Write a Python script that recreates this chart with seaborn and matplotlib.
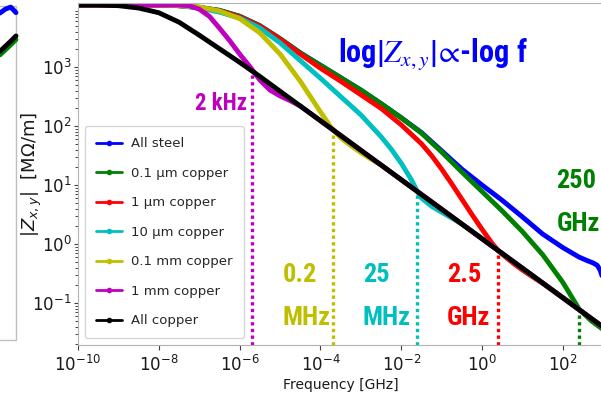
import numpy as np
import pandas as pd
import matplotlib
matplotlib.use('Agg')
import matplotlib.pyplot as plt
from matplotlib.lines import Line2D
from matplotlib.patches import Rectangle
import seaborn as sns

# log10 of frequency [GHz] and log10 of |Z| [MOhm/m]
blu_lf = [-10, -8, -7.5, -7, -6.5, -6, -5.5, -5, -4.5, -4, -3.5, -3, -2.5, -2, -1.5, -1, -0.5, 0, 0.5, 1, 1.5, 2, 2.4, 2.6, 2.75, 2.85, 2.92, 3]
blu_lz = [4.05, 4.05, 4.04, 4.01, 3.96, 3.86, 3.70, 3.48, 3.24, 3.03, 2.82, 2.61, 2.38, 2.14, 1.89, 1.58, 1.27, 1.00, 0.74, 0.46, 0.17, -0.06, -0.22, -0.28, -0.32, -0.36, -0.44, -0.60]

grn_lf = [-10, -8, -7.5, -7, -6.5, -6, -5.5, -5, -4.5, -4, -3.5, -3, -2.5, -2, -1.5, -1, -0.5, 0, 0.5, 1, 1.5, 2, 2.4, 2.7, 3]
grn_lz = [4.05, 4.05, 4.04, 4.01, 3.96, 3.86, 3.70, 3.48, 3.24, 3.03, 2.82, 2.61, 2.38, 2.14, 1.88, 1.56, 1.22, 0.89, 0.56, 0.21, -0.18, -0.65, -1.10, -1.30, -1.45]

red_lf = [-10, -8, -7.5, -7, -6.5, -6, -5.5, -5, -4.5, -4, -3.5, -3, -2.5, -2, -1.5, -1.25, -1, -0.75, -0.5, -0.25, 0, 0.25, 0.4, 0.6, 0.8, 1.0, 1.25, 1.5, 2, 3]
red_lz = [4.05, 4.05, 4.04, 4.01, 3.95, 3.85, 3.69, 3.47, 3.22, 2.98, 2.76, 2.53, 2.30, 2.02, 1.70, 1.50, 1.27, 1.02, 0.76, 0.50, 0.25, 0.01, -0.11, -0.23, -0.34, -0.44, -0.555, -0.665, -0.91, -1.41]

cyn_lf = [-10, -8, -7.5, -7, -6.5, -6, -5.5, -5, -4.5, -4, -3.5, -3, -2.5, -2.25, -2, -1.75, -1.6, -1.5, -1.25, -1, -0.75, -0.5, 0, 1, 2, 3]
cyn_lz = [4.05, 4.05, 4.04, 4.00, 3.93, 3.83, 3.66, 3.41, 3.11, 2.81, 2.50, 2.19, 1.82, 1.61, 1.37, 1.09, 0.89, 0.78, 0.64, 0.54, 0.44, 0.34, 0.09, -0.41, -0.91, -1.41]

yel_lf = [-10, -8, -7.5, -7, -6.5, -6, -5.5, -5, -4.5, -4.25, -4, -3.75, -3.5, -3.25, -3, -2.75, -2.5, -2, -1, 0, 1, 2, 3]
yel_lz = [4.05, 4.05, 4.04, 4.02, 3.95, 3.82, 3.58, 3.22, 2.76, 2.50, 2.24, 1.99, 1.80, 1.67, 1.55, 1.44, 1.34, 1.09, 0.59, 0.09, -0.41, -0.91, -1.41]

mag_lf = [-10, -8, -7.5, -7.25, -7, -6.75, -6.5, -6.25, -6, -5.75, -5.5, -5.25, -5, -4.75, -4.5, -4, -3, -2, -1, 0, 1, 2, 3]
mag_lz = [4.05, 4.05, 4.05, 4.04, 3.98, 3.86, 3.66, 3.45, 3.22, 3.01, 2.78, 2.61, 2.51, 2.43, 2.34, 2.09, 1.59, 1.09, 0.59, 0.09, -0.41, -0.91, -1.41]

blk_lf = [-10, -9.5, -9, -8.5, -8, -7.5, -7, -6.5, -6, -5.5, -5, -4, -3, -2, -1, 0, 1, 2, 3]
blk_lz = [4.05, 4.05, 4.04, 4.00, 3.92, 3.76, 3.54, 3.31, 3.08, 2.84, 2.59, 2.09, 1.59, 1.09, 0.59, 0.09, -0.41, -0.91, -1.41]

series_names = ['All steel', '0.1 µm copper', '1 µm copper', '10 µm copper',
                '0.1 mm copper', '1 mm copper', 'All copper']
series_colors = ['#0000ff', '#008000', '#ff0000', '#00bfbf', '#bfbf00', '#bf00bf', '#000000']
series_data = [(blu_lf, blu_lz), (grn_lf, grn_lz), (red_lf, red_lz), (cyn_lf, cyn_lz),
               (yel_lf, yel_lz), (mag_lf, mag_lz), (blk_lf, blk_lz)]

# crossover frequencies where each layer joins the all-copper curve
cross_ghz = [2e-6, 2e-4, 2.5e-2, 2.5, 250]
cross_lz = [2.94, 1.94, 0.89, -0.11, -1.11]
cross_labels = ['2 kHz', '0.2\nMHz', '25\nMHz', '2.5\nGHz', '250\nGHz']
cross_colors = ['#bf00bf', '#bfbf00', '#00bfbf', '#ff0000', '#008000']

# sliver of the neighbouring panel at the left edge (figure fractions)
side_x = [0.0, 0.009, 0.018, 0.0266]
side_blue = [0.967, 0.977, 0.982, 0.968]
side_green = [0.861, 0.874, 0.887, 0.900]
side_black = [0.870, 0.883, 0.896, 0.909]

sns.set_style('ticks')
plt.rcParams['font.family'] = ['DejaVu Sans']

frames = []
for name, (lf, lz) in zip(series_names, series_data):
    frames.append(pd.DataFrame({'f': 10.0 ** np.array(lf), 'z': 10.0 ** np.array(lz), 'series': name}))
df = pd.concat(frames, ignore_index=True)

fig = plt.figure(figsize=(6.01, 3.95), dpi=100)
ax = fig.add_axes([0.1298, 0.1266, 0.874, 0.8658])

sns.lineplot(data=df, x='f', y='z', hue='series', hue_order=series_names,
             palette=series_colors, linewidth=3.5, estimator=None, sort=False,
             legend=False, ax=ax)

ax.set_xscale('log')
ax.set_yscale('log')
ax.set_xlim(1e-10, 1e3)
ax.set_ylim(10 ** -1.71, 10 ** 4.085)
ax.set_xticks([1e-10, 1e-8, 1e-6, 1e-4, 1e-2, 1e0, 1e2])
ax.set_yticks([1e-1, 1e0, 1e1, 1e2, 1e3])
ax.tick_params(labelsize=12, colors='0.25', labelcolor='0.1')
ax.tick_params(axis='y', which='major', length=3, pad=1.5)
ax.tick_params(axis='y', which='minor', length=2)
for sp in ax.spines.values():
    sp.set_color('0.7')

ax.set_xlabel('Frequency [GHz]', fontsize=10, color='0.1', labelpad=2)
ax.set_ylabel(r'$|Z_{x,y}|$  [M$\Omega$/m]', fontsize=13, color='0.1')
ax.yaxis.set_label_coords(-0.064, 0.5)

ybot = ax.get_ylim()[0]
for f, lz, c in zip(cross_ghz, cross_lz, cross_colors):
    ax.plot([f, f], [ybot, 10 ** lz], color=c, lw=2.4, ls=(0, (1, 1)), zorder=1)

label_font = ['Roboto Condensed', 'Lato', 'DejaVu Sans']
ax.text(0.322, 0.705, cross_labels[0], transform=ax.transAxes, ha='right', va='center',
        color=cross_colors[0], fontsize=16.5, fontweight='bold', family=label_font)
label_pos = [(0.390, 0.142), (0.5425, 0.142), (0.7025, 0.142), (0.911, 0.417)]
for (x, y), lab, c in zip(label_pos, cross_labels[1:], cross_colors[1:]):
    ax.text(x, y, lab, transform=ax.transAxes, ha='left', va='center', multialignment='left',
            color=c, fontsize=19, fontweight='bold', family=label_font, linespacing=1.98)

ax.text(0.495, 0.825, r'log|$Z_{x,y}$|$\!\propto\!$-log f', transform=ax.transAxes, ha='left',
        va='baseline', color='#0000ff', fontsize=22, fontweight='bold', family=label_font,
        math_fontfamily='stix')

handles = [Line2D([0], [0], color=c, lw=2, marker='.', ms=6) for c in series_colors]
ax.legend(handles, series_names, loc='lower left', fontsize=9.5, labelspacing=1.25,
          handlelength=2.0, handletextpad=0.65, borderpad=0.85, borderaxespad=0.5,
          frameon=True, fancybox=True, framealpha=0.8, edgecolor='0.8')

# neighbouring panel: only a thin slice of it shows at the left edge
fig.add_artist(Rectangle((-0.05, 0.139), 0.0766, 0.8456, transform=fig.transFigure,
                         facecolor='none', edgecolor='0.75', lw=1))
for ys, c in [(side_blue, '#0000ff'), (side_green, '#008000'), (side_black, '#000000')]:
    fig.add_artist(Line2D(side_x, ys, transform=fig.transFigure, color=c, lw=3.5))

fig.savefig('out.png', dpi=100)
